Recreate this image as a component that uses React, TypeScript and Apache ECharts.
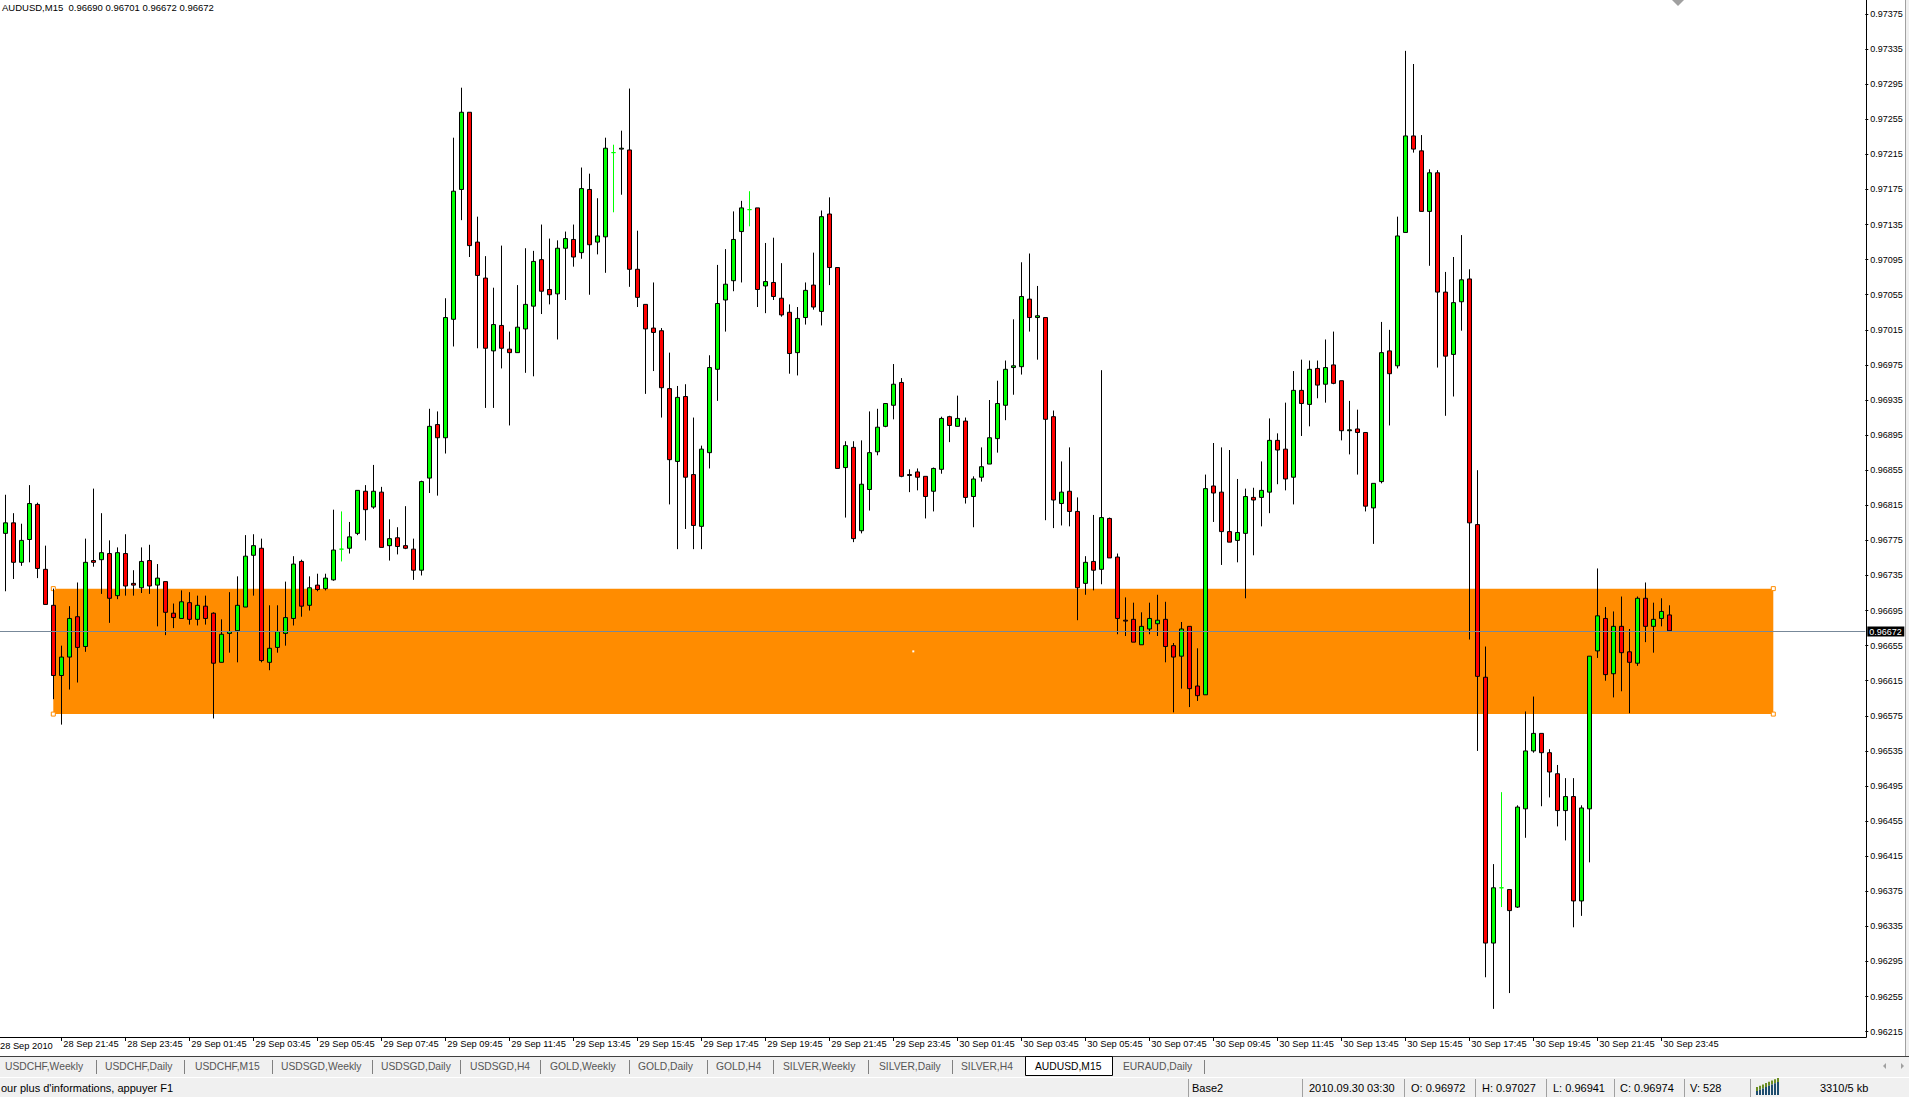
import React, { useEffect, useRef } from "react";
import * as echarts from "echarts";

const symbolTitle = "AUDUSD,M15\u00a0\u00a00.96690 0.96701 0.96672 0.96672";
const bidPrice = 0.96672;
const firstDateLabel = "28 Sep 2010";

const openP = [
  0.96783,0.96795,0.96750,0.96776,0.96816,0.96742,0.96701,0.96621,0.96642,0.96688,
  0.96654,0.96752,0.96753,0.96760,0.96712,0.96760,0.96726,0.96721,0.96752,0.96724,
  0.96728,0.96692,0.96686,0.96704,0.96685,0.96700,0.96692,0.96636,0.96669,0.96672,
  0.96699,0.96758,0.96766,0.96636,0.96653,0.96669,0.96686,0.96751,0.96701,0.96724,
  0.96720,0.96730,0.96765,0.96766,0.96783,0.96831,0.96813,0.96830,0.96769,0.96778,
  0.96769,0.96765,0.96741,0.96846,0.96907,0.96892,0.97027,0.97175,0.97263,0.97115,
  0.97074,0.96991,0.97020,0.96993,0.96989,0.97016,0.97042,0.97095,0.97061,0.97056,
  0.97108,0.97118,0.97103,0.97175,0.97115,0.97121,0.97217,0.97221,0.97220,0.97084,
  0.97044,0.97017,0.97014,0.96948,0.96865,0.96939,0.96850,0.96791,0.96875,0.96970,
  0.97049,0.97071,0.97127,0.97152,0.97154,0.97065,0.97069,0.97051,0.97035,0.96989,
  0.97029,0.97066,0.97036,0.97147,0.97086,0.96858,0.96881,0.96786,0.96833,0.96876,
  0.96905,0.96929,0.96955,0.96850,0.96853,0.96848,0.96831,0.96856,0.96916,0.96905,
  0.96911,0.96825,0.96847,0.96862,0.96891,0.96929,0.96972,0.96973,0.97050,0.97029,
  0.97029,0.96916,0.96817,0.96831,0.96808,0.96726,0.96751,0.96742,0.96800,0.96756,
  0.96684,0.96685,0.96656,0.96674,0.96680,0.96685,0.96655,0.96643,0.96677,0.96609,
  0.96599,0.96837,0.96830,0.96785,0.96775,0.96783,0.96824,0.96824,0.96830,0.96889,
  0.96879,0.96847,0.96946,0.96930,0.96971,0.96953,0.96975,0.96957,0.96900,0.96902,
  0.96898,0.96812,0.96842,0.96991,0.96974,0.97126,0.97236,0.97219,0.97150,0.97194,
  0.97058,0.96987,0.97047,0.97073,0.96793,0.96619,0.96316,0.96379,0.96377,0.96357,
  0.96469,0.96535,0.96555,0.96533,0.96509,0.96467,0.96483,0.96364,0.96469,0.96649,
  0.96686,0.96623,0.96677,0.96648,0.96635,0.96709,0.96677,0.96686,0.96690,
];

const highP = [
  0.96827,0.96806,0.96794,0.96838,0.96818,0.96769,0.96720,0.96655,0.96700,0.96727,
  0.96777,0.96834,0.96806,0.96775,0.96767,0.96782,0.96741,0.96767,0.96770,0.96748,
  0.96728,0.96703,0.96718,0.96716,0.96712,0.96712,0.96693,0.96685,0.96716,0.96734,
  0.96781,0.96782,0.96777,0.96701,0.96701,0.96728,0.96757,0.96753,0.96734,0.96737,
  0.96737,0.96810,0.96808,0.96796,0.96832,0.96838,0.96861,0.96836,0.96799,0.96790,
  0.96814,0.96777,0.96843,0.96925,0.96922,0.97051,0.97234,0.97291,0.97263,0.97144,
  0.97099,0.97063,0.97111,0.97013,0.97066,0.97108,0.97105,0.97135,0.97119,0.97117,
  0.97127,0.97135,0.97200,0.97193,0.97165,0.97234,0.97226,0.97242,0.97290,0.97128,
  0.97044,0.97069,0.97017,0.96989,0.96951,0.96953,0.96915,0.96883,0.96986,0.97089,
  0.97107,0.97150,0.97162,0.97173,0.97154,0.97114,0.97120,0.97091,0.97044,0.97041,
  0.97069,0.97103,0.97151,0.97166,0.97086,0.96888,0.96888,0.96889,0.96922,0.96925,
  0.96931,0.96976,0.96960,0.96856,0.96857,0.96848,0.96858,0.96916,0.96917,0.96940,
  0.96915,0.96848,0.96881,0.96935,0.96957,0.96980,0.97027,0.97092,0.97102,0.97065,
  0.97029,0.96923,0.96865,0.96881,0.96824,0.96757,0.96804,0.96969,0.96801,0.96760,
  0.96710,0.96704,0.96693,0.96704,0.96713,0.96705,0.96658,0.96682,0.96677,0.96652,
  0.96850,0.96886,0.96881,0.96878,0.96845,0.96834,0.96835,0.96865,0.96914,0.96897,
  0.96932,0.96968,0.96981,0.96980,0.96980,0.97004,0.97013,0.96957,0.96934,0.96924,
  0.96898,0.96840,0.97024,0.97015,0.97144,0.97333,0.97318,0.97237,0.97198,0.97197,
  0.97081,0.97098,0.97123,0.97084,0.96855,0.96654,0.96406,0.96488,0.96377,0.96473,
  0.96580,0.96597,0.96555,0.96537,0.96519,0.96504,0.96504,0.96473,0.96643,0.96743,
  0.96699,0.96694,0.96711,0.96674,0.96711,0.96727,0.96704,0.96709,0.96701,
];

const lowP = [
  0.96717,0.96731,0.96746,0.96750,0.96732,0.96702,0.96594,0.96565,0.96605,0.96613,
  0.96648,0.96745,0.96714,0.96681,0.96708,0.96712,0.96712,0.96715,0.96714,0.96677,
  0.96667,0.96675,0.96686,0.96679,0.96678,0.96679,0.96572,0.96636,0.96647,0.96636,
  0.96699,0.96712,0.96636,0.96627,0.96647,0.96655,0.96678,0.96688,0.96695,0.96717,
  0.96718,0.96729,0.96751,0.96760,0.96781,0.96775,0.96811,0.96767,0.96752,0.96759,
  0.96765,0.96730,0.96735,0.96829,0.96826,0.96874,0.96996,0.97140,0.97098,0.96994,
  0.96926,0.96926,0.96971,0.96906,0.96989,0.96966,0.96962,0.97033,0.97044,0.97004,
  0.97049,0.97087,0.97096,0.97055,0.97101,0.97080,0.97149,0.97169,0.97064,0.97041,
  0.96942,0.96968,0.96915,0.96816,0.96765,0.96788,0.96765,0.96765,0.96857,0.96934,
  0.97013,0.97059,0.97069,0.97133,0.97041,0.97034,0.97049,0.97030,0.96965,0.96963,
  0.97021,0.97038,0.97020,0.97066,0.96857,0.96801,0.96773,0.96783,0.96809,0.96872,
  0.96904,0.96913,0.96847,0.96830,0.96832,0.96800,0.96808,0.96851,0.96887,0.96905,
  0.96817,0.96790,0.96842,0.96862,0.96875,0.96912,0.96941,0.96964,0.97013,0.96981,
  0.96798,0.96789,0.96792,0.96791,0.96684,0.96713,0.96718,0.96725,0.96755,0.96668,
  0.96666,0.96659,0.96656,0.96668,0.96666,0.96636,0.96579,0.96606,0.96585,0.96592,
  0.96599,0.96796,0.96747,0.96773,0.96750,0.96709,0.96758,0.96791,0.96806,0.96839,
  0.96832,0.96816,0.96894,0.96905,0.96937,0.96932,0.96953,0.96889,0.96873,0.96850,
  0.96808,0.96771,0.96840,0.96906,0.96971,0.97126,0.97217,0.97150,0.97088,0.96972,
  0.96917,0.96939,0.97014,0.96662,0.96535,0.96277,0.96241,0.96357,0.96259,0.96356,
  0.96436,0.96533,0.96472,0.96482,0.96449,0.96433,0.96334,0.96347,0.96408,0.96641,
  0.96615,0.96596,0.96603,0.96578,0.96632,0.96659,0.96647,0.96677,0.96672,
];

const closeP = [
  0.96795,0.96750,0.96775,0.96817,0.96743,0.96702,0.96621,0.96642,0.96686,0.96653,
  0.96750,0.96750,0.96761,0.96709,0.96761,0.96723,0.96724,0.96751,0.96723,0.96732,
  0.96693,0.96687,0.96705,0.96685,0.96701,0.96686,0.96635,0.96668,0.96671,0.96701,
  0.96757,0.96769,0.96638,0.96652,0.96671,0.96687,0.96748,0.96700,0.96721,0.96719,
  0.96732,0.96764,0.96765,0.96779,0.96832,0.96810,0.96831,0.96767,0.96777,0.96768,
  0.96766,0.96741,0.96842,0.96905,0.96892,0.97029,0.97173,0.97263,0.97111,0.97077,
  0.96994,0.97021,0.96994,0.96989,0.97018,0.97044,0.97093,0.97059,0.97055,0.97108,
  0.97119,0.97098,0.97176,0.97112,0.97122,0.97222,0.97217,0.97222,0.97084,0.97052,
  0.97016,0.97012,0.96949,0.96867,0.96938,0.96847,0.96792,0.96879,0.96972,0.97045,
  0.97067,0.97118,0.97154,0.97152,0.97061,0.97070,0.97053,0.97032,0.96988,0.97028,
  0.97060,0.97041,0.97144,0.97086,0.96857,0.96883,0.96777,0.96839,0.96875,0.96904,
  0.96931,0.96953,0.96848,0.96849,0.96847,0.96825,0.96857,0.96914,0.96906,0.96914,
  0.96824,0.96845,0.96859,0.96892,0.96931,0.96970,0.96974,0.97053,0.97029,0.97031,
  0.96913,0.96821,0.96830,0.96808,0.96721,0.96750,0.96741,0.96801,0.96755,0.96686,
  0.96683,0.96659,0.96677,0.96686,0.96684,0.96654,0.96642,0.96674,0.96606,0.96598,
  0.96834,0.96829,0.96785,0.96773,0.96784,0.96825,0.96821,0.96832,0.96889,0.96878,
  0.96845,0.96946,0.96931,0.96970,0.96952,0.96972,0.96954,0.96900,0.96901,0.96898,
  0.96814,0.96840,0.96989,0.96965,0.97122,0.97236,0.97221,0.97150,0.97194,0.97058,
  0.96985,0.97046,0.97072,0.96795,0.96620,0.96316,0.96379,0.96379,0.96353,0.96471,
  0.96535,0.96555,0.96533,0.96511,0.96467,0.96483,0.96364,0.96470,0.96643,0.96689,
  0.96622,0.96677,0.96647,0.96636,0.96709,0.96677,0.96685,0.96694,0.96672,
];

// Orange rectangle object: [startBar, topPrice, endBar, bottomPrice]
const zoneRect = [6, 0.9672, 221, 0.96577];

const yMin = 0.96215;
const yMax = 0.97375;
const yStep = 0.0004;

const tabNames = [
  "USDCHF,Weekly", "USDCHF,Daily", "USDCHF,M15", "USDSGD,Weekly", "USDSGD,Daily",
  "USDSGD,H4", "GOLD,Weekly", "GOLD,Daily", "GOLD,H4", "SILVER,Weekly",
  "SILVER,Daily", "SILVER,H4", "AUDUSD,M15", "EURAUD,Daily",
];
const activeTab = "AUDUSD,M15";
const statusTexts = [
  "our plus d'informations, appuyer F1", "Base2", "2010.09.30 03:30",
  "O: 0.96972", "H: 0.97027", "L: 0.96941", "C: 0.96974", "V: 528", "3310/5 kb",
];

// time categories: one per 15-minute bar starting 28 Sep 2010 20:00
const MONTHS = ["Jan","Feb","Mar","Apr","May","Jun","Jul","Aug","Sep","Oct","Nov","Dec"];
const N_CATS = 233;
const categories: string[] = [];
{
  const start = Date.UTC(2010, 8, 28, 20, 0);
  for (let i = 0; i < N_CATS; i++) {
    const d = new Date(start + i * 15 * 60000);
    const hh = String(d.getUTCHours()).padStart(2, "0");
    const mm = String(d.getUTCMinutes()).padStart(2, "0");
    categories.push(`${d.getUTCDate()} ${MONTHS[d.getUTCMonth()]} ${hh}:${mm}`);
  }
}
const isTick = (i: number) => i >= 7 && i < openP.length && (i - 7) % 8 === 0;

const FONT = "'Liberation Sans', Arial, sans-serif";

export default function App() {
  const ref = useRef<HTMLDivElement>(null);
  useEffect(() => {
    if (!ref.current) return;
    const chart = echarts.init(ref.current, undefined, { renderer: "svg" });

    const candleData = openP.map((o, i) => {
      const item: any = { value: [o, closeP[i], lowP[i], highP[i]] };
      if (o === closeP[i]) {
        item.itemStyle = { borderColor: "#00ff00", borderColor0: "#00ff00", color: "#00ff00", color0: "#00ff00" };
      }
      return item;
    });

    // ---------- static window chrome ----------
    const g: any[] = [];
    const txt = (x: number, y: number, text: string, size = 10, fill = "#000", extra: any = {}) => ({
      type: "text", x, y, silent: true,
      style: { text, fill, fontSize: size, fontFamily: FONT, verticalAlign: "middle", align: "left", ...extra },
    });
    const ln = (x1: number, y1: number, x2: number, y2: number, stroke: string, lineWidth = 1) => ({
      type: "line", silent: true, shape: { x1, y1, x2, y2 }, style: { stroke, lineWidth },
    });

    g.push(txt(2, 7.5, symbolTitle, 9.5));
    g.push(txt(0, 1046, firstDateLabel, 9.3));
    // chart frame
    g.push(ln(1866.5, 0, 1866.5, 1037.5, "#000"));
    g.push(ln(0, 1037.5, 1866.5, 1037.5, "#000"));
    // window right border
    g.push({ type: "rect", silent: true, shape: { x: 1905, y: 0, width: 4, height: 1057 }, style: { fill: "#f0f0f0" } });
    g.push(ln(1905.5, 0, 1905.5, 1057, "#a0a0a0"));
    // chart-shift marker
    g.push({ type: "polygon", silent: true, shape: { points: [[1672, 0], [1684, 0], [1678, 6]] }, style: { fill: "#a0a0a0" } });
    // tabs row
    g.push({ type: "rect", silent: true, shape: { x: 0, y: 1057, width: 1909, height: 20 }, style: { fill: "#f0f0f0" } });
    g.push(ln(0, 1056.5, 1909, 1056.5, "#404040"));
    const tabX = [5, 105, 195, 281, 381, 470, 550, 638, 716, 783, 879, 961, 1035, 1123];
    const sepX = [96, 184, 272, 372, 460, 540, 629, 707, 773, 868, 952, 1204];
    sepX.forEach((x) => g.push(ln(x + 0.5, 1060, x + 0.5, 1074, "#808080")));
    g.push({ type: "rect", silent: true, shape: { x: 1025.5, y: 1056.5, width: 87, height: 19 }, style: { fill: "#fff", stroke: "#000", lineWidth: 1 } });
    tabNames.forEach((t, i) => g.push(txt(tabX[i], 1066, t, 10.3, t === activeTab ? "#000" : "#555")));
    g.push({ type: "polygon", silent: true, shape: { points: [[1886, 1063], [1886, 1069], [1883, 1066]] }, style: { fill: "#a0a0a0" } });
    g.push({ type: "polygon", silent: true, shape: { points: [[1901, 1063], [1901, 1069], [1904, 1066]] }, style: { fill: "#a0a0a0" } });
    // status bar
    g.push({ type: "rect", silent: true, shape: { x: 0, y: 1077, width: 1909, height: 20 }, style: { fill: "#f0f0f0" } });
    g.push(ln(0, 1077.5, 1909, 1077.5, "#ffffff"));
    const stX = [1, 1192, 1309, 1411, 1482, 1553, 1620, 1690, 1820];
    statusTexts.forEach((t, i) => g.push(txt(stX[i], 1088, t, 11)));
    [1188, 1302, 1404, 1475, 1546, 1614, 1684, 1750].forEach((x) => g.push(ln(x + 0.5, 1079, x + 0.5, 1097, "#a0a0a0")));
    for (let k = 0; k < 8; k++) {
      const hgt = 4 + k * 1.3;
      g.push({ type: "rect", silent: true, shape: { x: 1756 + k * 3, y: 1095 - hgt - 4, width: 2, height: 4 }, style: { fill: "#6b8e23" } });
      g.push({ type: "rect", silent: true, shape: { x: 1756 + k * 3, y: 1095 - hgt, width: 2, height: hgt }, style: { fill: "#1f4e6f" } });
    }

    chart.setOption({
      animation: false,
      backgroundColor: "#ffffff",
      grid: { left: 1.3, top: 14, width: 1864, height: 1017.67 },
      xAxis: {
        type: "category",
        data: categories,
        boundaryGap: true,
        offset: 5.3,
        axisLine: { show: false },
        axisTick: { show: true, alignWithLabel: true, interval: (i: number) => isTick(i), length: 4, lineStyle: { color: "#000" } },
        axisLabel: {
          interval: (i: number) => isTick(i),
          align: "left",
          padding: [0, 0, 0, 2],
          margin: 3,
          fontSize: 9.3,
          fontFamily: FONT,
          color: "#000",
        },
        splitLine: { show: false },
      },
      yAxis: {
        type: "value",
        position: "right",
        min: yMin,
        max: yMax,
        interval: yStep,
        scale: true,
        axisLine: { show: false },
        axisTick: { show: true, length: 3, lineStyle: { color: "#000" } },
        axisLabel: { margin: 5, fontSize: 9, fontFamily: FONT, color: "#000", formatter: (v: number) => v.toFixed(5) },
        splitLine: { show: false },
      },
      series: [
        {
          type: "custom",
          z: 1,
          silent: true,
          clip: false,
          encode: { x: [0, 2], y: [1, 3] },
          data: [zoneRect],
          renderItem: (params: any, api: any) => {
            const p1 = api.coord([api.value(0), api.value(1)]);
            const p2 = api.coord([api.value(2), api.value(3)]);
            const x = p1[0], y = p1[1], w = p2[0] - p1[0], h = p2[1] - p1[1];
            const sq = (cx: number, cy: number) => ({
              type: "rect", shape: { x: cx - 2, y: cy - 2, width: 4, height: 4 },
              style: { fill: "#ffffff", stroke: "#ff8c00", lineWidth: 1 },
            });
            return {
              type: "group",
              children: [
                { type: "rect", shape: { x, y, width: w, height: h }, style: { fill: "#ff8c00" } },
                sq(x, y), sq(x + w, y), sq(x, y + h), sq(x + w, y + h),
                { type: "rect", shape: { x: x + w / 2 - 1, y: y + h / 2 - 1, width: 2, height: 2 }, style: { fill: "#ffffff" } },
              ],
            };
          },
        },
        {
          type: "candlestick",
          z: 3,
          barWidth: 4,
          data: candleData,
          itemStyle: { color: "#00ff00", color0: "#ff0000", borderColor: "#000000", borderColor0: "#000000", borderWidth: 1 },
        },
        {
          // bid line with price box on the right axis
          type: "custom",
          z: 4,
          silent: true,
          clip: false,
          encode: { x: 0, y: 1 },
          data: [[0, bidPrice]],
          renderItem: (params: any, api: any) => {
            const y = Math.round(api.coord([0, api.value(1)])[1]) + 0.5;
            const cs = params.coordSys;
            const right = cs.x + cs.width;
            return {
              type: "group",
              children: [
                { type: "line", shape: { x1: 0, y1: y, x2: right, y2: y }, style: { stroke: "#778899", lineWidth: 1 } },
                { type: "rect", shape: { x: right + 2, y: y - 5, width: 37, height: 10 }, style: { fill: "#000" } },
                {
                  type: "text", x: right + 4, y: y,
                  style: { text: api.value(1).toFixed(5), fill: "#fff", fontSize: 9, fontFamily: FONT, verticalAlign: "middle", align: "left" },
                },
              ],
            };
          },
        },
      ],
      graphic: g,
    });
    return () => chart.dispose();
  }, []);
  return <div ref={ref} style={{ position: "absolute", left: 0, top: 0, width: 1909, height: 1097 }} />;
}
